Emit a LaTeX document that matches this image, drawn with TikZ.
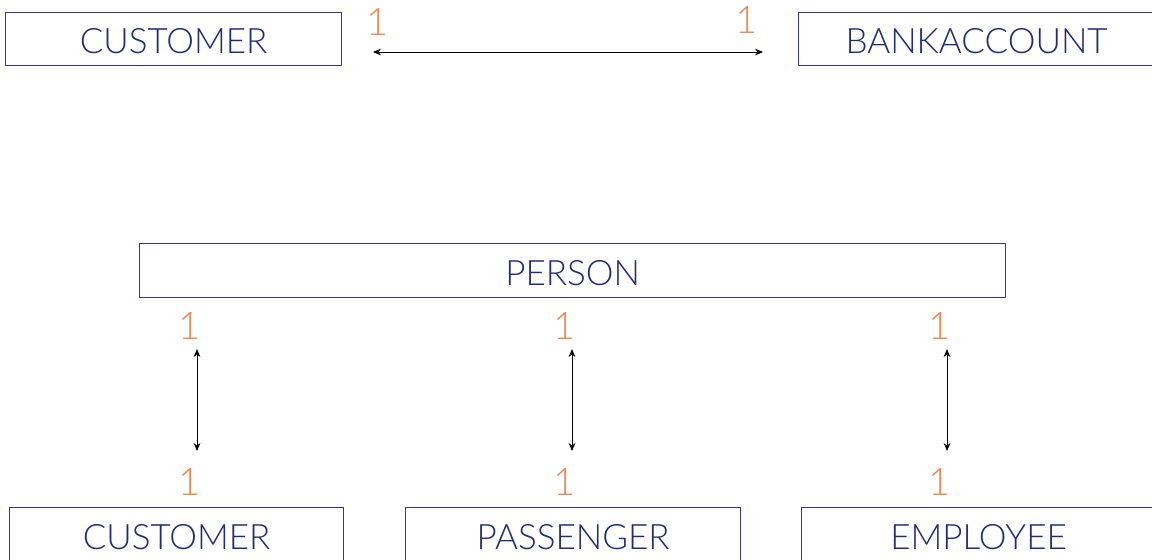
\documentclass[tikz,border=0pt]{standalone}
\usepackage{fontspec}
\setmainfont{Lato Light}
\usetikzlibrary{arrows.meta}
\definecolor{navy}{HTML}{1F2C72}
\definecolor{boxline}{HTML}{2F3B86}
\definecolor{mult}{HTML}{E98A57}
\tikzset{
  entity/.style={draw=boxline, line width=0.6pt, text=navy, inner sep=0pt,
    font=\fontsize{17.5}{19}\selectfont, anchor=north west,
    text height=14.4pt, text depth=0pt},
  card/.style={text=mult, font=\fontsize{19}{20}\selectfont, inner sep=0pt},
  link/.style={line width=0.5pt, {Stealth[length=4pt,width=3.4pt]}-{Stealth[length=4pt,width=3.4pt]}}
}
\begin{document}
\begin{tikzpicture}[x=0.5pt,y=-0.5pt]
\useasboundingbox (0,0) rectangle (1152,559);
% top row
\node[entity, minimum width=168pt, minimum height=26.5pt] (cust1) at (5,12) {CUSTOMER};
\node[entity, minimum width=178pt, minimum height=26.5pt] (bank) at (798,12) {BANKACCOUNT};
\node[card] (c1) at (378,22) {1};
\node[card] (c2) at (747,20) {1};
\coordinate (t1) at (373,52);
\coordinate (t2) at (763,52);
\draw[link] (t1) -- (t2);
% person
\node[entity, minimum width=433pt, minimum height=27pt] (person) at (139,243) {PERSON};
% bottom row
\node[entity, minimum width=167pt, minimum height=27pt] (cust2) at (9,507) {CUSTOMER};
\node[entity, minimum width=167.5pt, minimum height=27pt] (pass) at (405,507) {PASSENGER};
\node[entity, minimum width=177pt, minimum height=27pt] (emp) at (801,507) {EMPLOYEE};
% cardinalities and links
\foreach \x/\n in {190/a,565/b,940/c}{
  \node[card] (u\n) at (\x,326) {1};
  \node[card] (l\n) at (\x,482) {1};
}
\foreach \x/\n in {197/a,572/b,947/c}{
  \coordinate (p\n) at (\x,349);
  \coordinate (q\n) at (\x,451);
  \draw[link] (p\n) -- (q\n);
}
\end{tikzpicture}
\end{document}
